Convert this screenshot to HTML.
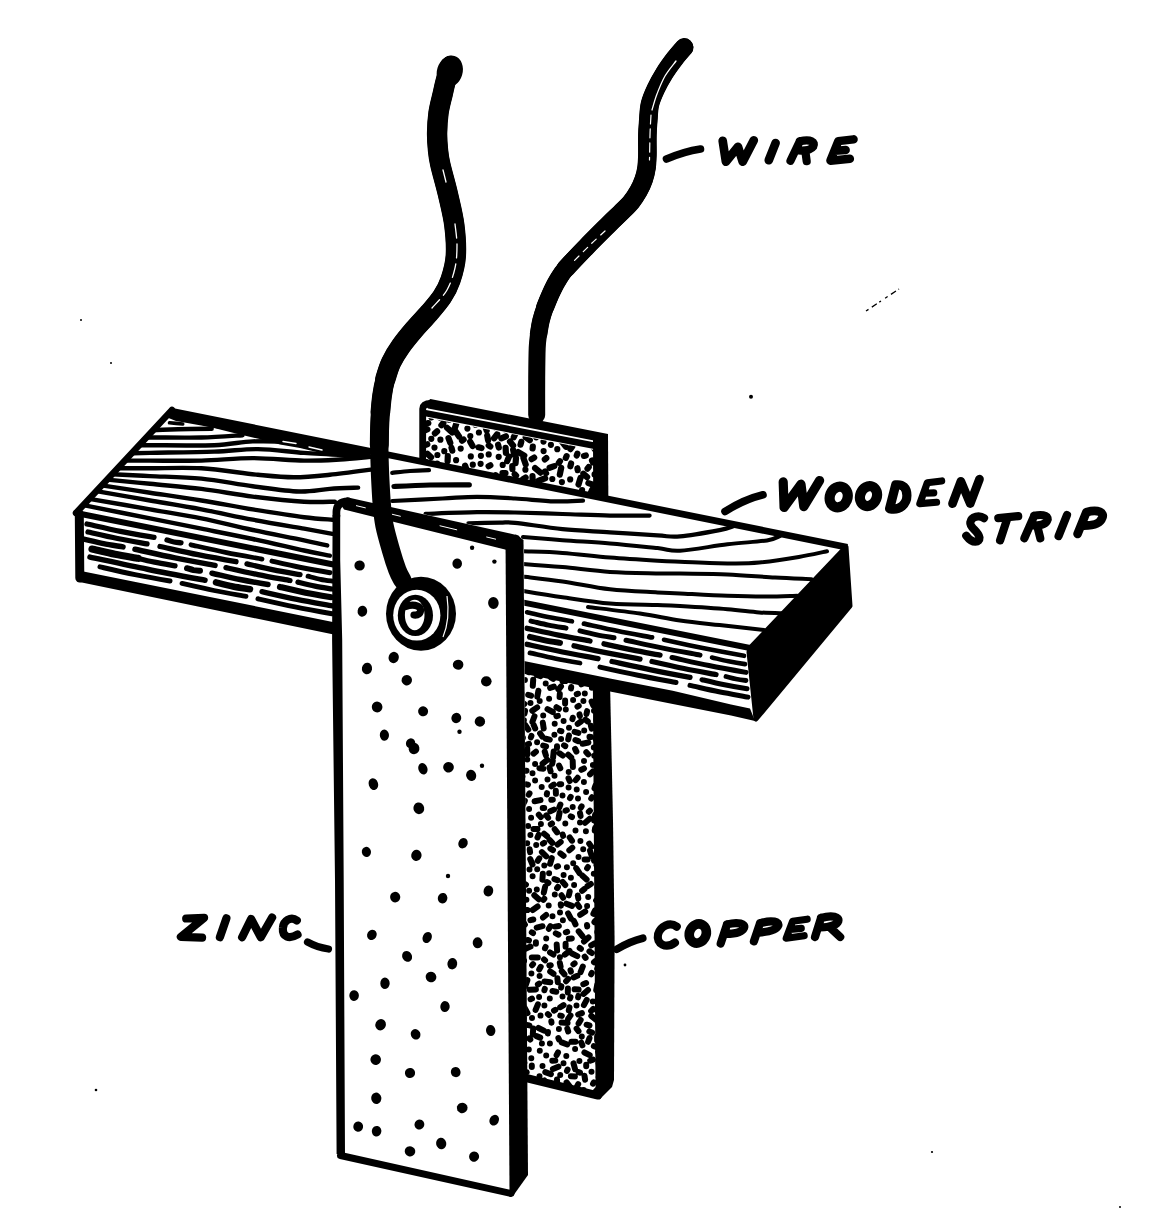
<!DOCTYPE html>
<html><head><meta charset="utf-8"><title>Zinc copper cell</title>
<style>html,body{margin:0;padding:0;background:#fff;font-family:"Liberation Sans",sans-serif}svg{display:block}</style></head>
<body>
<svg width="1168" height="1212" viewBox="0 0 1168 1212">
<rect width="1168" height="1212" fill="#fff"/>
<defs>
<clipPath id="cu1"><polygon points="426,417.5 594,450 594,505 426,470"/></clipPath>
<clipPath id="cu2"><polygon points="520,660 594,680 598,1094 522,1078"/></clipPath>
<clipPath id="wtop"><polygon points="172,410 846,547 750,648 76,513"/></clipPath>
<clipPath id="wfront"><polygon points="76,513 750,648 756,719 77.5,578"/></clipPath>
</defs>
<!-- copper plate -->
<polygon points="420,404 430,399 608,434 614.5,940 613,1084 598,1098 521,1080 420,800" fill="#fff"/>
<path clip-path="url(#cu1)" d="M502.7 464.9l0 0M585.8 455.4l-1.9 0.5M512.3 466.1l0.1 3M456.1 460.2l0 0M535 484.5l-2.8 6.4M440.4 439.7l0 0M438.5 488.5l2.5 1.6M544.3 412.7l0.8 2.9M595.8 503.4l-1.9 2.3M535.1 468.1l5.4 4.5M452.1 410.7l-1.3 1.5M515.9 415.8l0 0M455.2 430.8l3.9 5.8M427.4 453.8l3.7 3.4M500.7 492.6l0 0M505.9 436.3l-4.6 2M570.2 479.4l0 0M478.9 432.5l0 0M473.1 414.7l2.4 4.4M557.3 449.2l0 0M572.2 446.7l-1.8 2.4M592.1 489.8l-2.7 6.5M427.4 429.4l-6.6 2.4M593.7 447.7l1.8 2.4M436.6 470.2l0.2 3M561.9 436l-4.9 1M588.4 483.1l6.6 2.3M443.5 414.2l-3.7 3.3M562.7 427.4l0 0M518.3 452.1l6 3.5M458.3 480.7l-2.2 2M446.8 473.1l0 0M444.3 451.2l0 0M476.9 496.7l0 0M460.7 448.6l0 0M442.1 504.5l-1.3 4.8M465.1 465.6l2.4 6.6M488.7 454.4l0 0M526.4 494.5l-4.9 0.8M456.9 421.8l-2.2 6.7M582.1 490.1l0 0M467.4 428.6l0 0M553 498.7l-0.8 7M458.2 503.1l0 0M577.4 468.2l0.3 2M499.8 417.7l-5 4.9M428.3 503.8l4.9 1.1M464.1 478.5l2.8 1.1M467.3 487.5l2.9 6.4M525.7 437.3l4.1 2.9M437.1 431.4l-2.2 2M581.2 429.2l4.7 1.6M523.6 422.9l0 0M487.4 496.4l-0.9 1.8M594.6 474.4l0 0M427.7 472.3l0 0M507.9 481.6l0 0M480.6 506.9l-2.3 2M437.1 463.5l0 0M552.3 479l0 0M561.4 497.3l1.3 4.8M485.2 477.1l0 0M532.8 446.5l-0.2 2M525.4 469.7l0 0M554.3 466.1l-4.7 1.6M546.3 458.1l-1.5 1.3M530.1 499l1.6 2.5M467.5 408.8l2.1 4.5M476.6 475l-0.5 3M447.8 456.2l-0.2 5M570.6 493.1l-2 0.2M534.2 457.6l-2.6 1.6M572.5 413l6.7 2.1M478 485.1l-0.5 5M428.3 423.1l-1.9 0.5M503.1 412.4l0 0M569.9 431.3l-3 4M543.1 429.5l0 0M508.1 425.5l-2.9 4.1M470.2 441.7l2.4 4.4M492.5 487.6l0 0M490.4 465.3l-1.8 0.9M549.6 490.2l0 0M515.4 484.6l4 5.7M567.1 415.2l-4.5 2.1M589.2 418.4l0 0M571.1 463.4l-0.7 2.9M458.7 493.2l3 0.3M592 460.5l0.9 1.8M528 410.6l2.6 4.2M470.8 456.4l0 0M459.8 470.4l-5 0.3M543.5 441.6l0 0M443.3 479.4l-2.1 4.5M514.6 423.7l3.1 3.9M580 439.9l2.2 2M578.4 423.1l0 0M495.7 475.2l-3.2 3.9M541.2 499.2l3 0.1M567.4 505l5.6 4.2M480.9 455.8l0 0M513.1 449.7l1 4.9M469.1 495.8l-0.4 7M427.3 444.3l-2.8 1M592.1 411.8l4.9 0.9M490.8 419.3l-2.9 0.8M487.2 435.5l0.9 4.9M555.4 414l-2.3 1.9M436.6 497.3l0.4 3M498.7 456.8l0 0M592.2 432.9l2.3 2M514.2 501.4l1.8 0.8M459.3 412.6l0.2 5M560 461.2l-1.2 1.6M552.7 432.9l-1.8 0.9M561.2 467.8l-1.4 6.8M430.3 414.6l1.1 2.8M534.7 419l-4.5 2.1M541.1 505.9l-6.7 2.1M480.6 463.8l0 0M498.1 444.7l0.7 2.9M583.1 501.5l1.5 1.3M566.6 456.1l-0.8 1.8M516 458.1l-0.4 5M450.2 485.5l0 0M424 489.5l0.5 1.9M573.2 439.8l0 0M504.3 504.8l0 0M545.2 478.3l-6.6 2.3M554.2 489.3l6.6 2.4M531.6 429.2l3 0.3M525.6 477.5l-2.5 1.6M444.2 497.8l6.8 1.6M515.1 434.5l-1.3 2.7M505.6 447.8l0.3 5M532.5 476.1l0.1 3M548.1 423.2l0 0M463.6 439.5l-1.6 1.2M583.4 473.7l3.7 3.4M448.5 438.2l1.8 4.7M595.6 424.2l0 0M478.6 447.3l2.9 0.7M447 427.7l5.2 4.7M434.5 447.6l0 0M426.4 462.2l-4.5 2.3M543.6 451.1l0 0M432.5 479.9l0 0M481.3 411.6l0.3 2M561.9 482.1l0 0M443.4 422.9l-2 2.3M591.1 440.4l-4.4 2.3M485.8 427.8l0.9 2.9M547.5 507.7l-3 0.1M495.2 506.5l1.7 1.1M510 441.6l3.1 3.9M577.4 453.6l-0.7 1.9M525.3 502.3l-4.5 2.3M576.8 501.2l-1.9 0.6M499.8 484.7l0 0M521.3 441.8l-0.8 2.9M424.2 410.1l0 0M496 428l0 0M580.5 477.8l-2 6.7M505.5 473l-3 0.2M514.7 474.2l1.4 1.4M588.7 467.1l-1.2 1.6M523.4 457.9l2.3 6.6M509.3 491.5l1.8 2.4M467.1 420l0 0M451.5 447.8l0.8 2.9M431.3 438.8l0 0M492.5 409.5l2.6 1.5M495.4 498.8l0 0M550.9 444.8l0 0M475.5 424.7l0 0M437.4 455l0 0M488.7 445.4l1.6 1.1M487.5 505.8l1.6 1.2M586.1 411.2l0 0M421.5 479.1l5 0.7M570.6 424.7l0 0M470.3 436.1l0 0M470.6 507.6l0 0M539.4 484.5l4.1 5.7M536.2 437.3l0 0M449.2 419.7l0 0M539.3 410.4l-3 0M509.1 456.5l-1.9 4.6M450.6 506.9l0 0M541.1 418.6l-2 6.7M497.2 434.3l-3.1 3.9M523.1 430.2l1.4 2.6M472.8 464.7l0 0M545.1 471.5l1 1.7M562 507.7l-5 0.1M561.5 441.2l4.3 5.5" fill="none" stroke="#000" stroke-width="6.2" stroke-linecap="round"/>
<path clip-path="url(#cu2)" d="M556.7 944.6l0.4 6M572.8 717.7l-0.4 1.5M519.8 820.6l-1.8 2.4M540.5 1015.6l0 0M573.8 920.8l1.7 3.6M529.7 849.3l0.4 3M531.3 1058.2l0 0M523.8 1018.2l-2 2.3M524.1 960.7l0 0M544.1 833.7l3 2.6M588.6 660.7l-3.1 5.1M521.7 1061.4l2.6 1.5M559.8 694l-0.2 3M599.2 1075.6l-0.5 1.4M527.2 843.3l0 0M529.5 793.4l-0.8 1.3M569 727.8l0 0M575.1 677.9l0 0M532 1018l0 0M549.5 839.9l2.8 2.9M566.9 867.2l0 0M550.2 668.3l-1.4 0.5M578.2 1084.2l-1.4 2.7M598.1 950.3l0 0M546.3 815.4l1.8 2.4M571.9 953.5l5.4 2.6M527.3 759.6l0 0M547.2 882.1l1.2 0.9M582.2 875.5l4.4 4M536.2 845.1l0 0M549.8 998.5l0 0M526.4 899.7l0 0M533.1 964.1l-1 1.1M522.4 776.6l-2.8 2.8M546.2 938.4l0 0M522.3 859.4l0 0M535.1 780.4l0 0M557 1079.6l0.2 4M531.8 1065.5l-0 1.5M545.9 738.8l3.9 0.8M579.4 1060.9l0 0M581.6 806.4l-0.8 1.3M536.8 657.7l1.9 2.3M520.3 928.8l2 3.4M598.1 1098.9l1.2 0.9M559.3 665.6l0 0M544.4 1005.4l0 0M588.5 937.5l-4.5 4M536.8 889.6l0 0M555.8 933.4l2.7 1.3M539.5 1076.3l0 0M590.9 725.7l0.8 2.9M541.9 1043.6l0 0M559.8 962.8l0.8 3.9M575.1 748.9l1.3 2.7M539.4 768.2l4 0.5M574.6 963.4l-1.2 0.9M528.8 1049.5l0 0M552.8 760.9l-0.6 2.9M553.7 1090.1l0 1.5M593.8 1082.4l-0.8 1.3M580.4 840.9l0 0M566.3 1055.9l0 0M585.2 911.5l-5 3.3M577.5 904.4l1.7 2.5M519.2 969.5l0.4 3M593.2 1008.9l-2.1 2.1M593 1059.6l-2.8 1.1M563.6 1005.1l-3.4 2.1M549.1 698.7l0 0M547 793.1l-0.2 1.5M595.1 961.2l-1.1 1M575.5 830.4l0 0M538.7 834.7l-1.2 2.8M544 959.4l1.1 1M528.2 694.9l2.9 0.8M579.7 948l1.2 0.9M595.1 814.7l-0.9 5.9M520.4 872.1l0 0M554.4 734.8l0 0M572.7 806.9l0 0M540.5 800.1l-5.9 1.2M594.4 656.7l2.1 3.4M547.5 779.5l0 0M530.2 859l2.3 5.5M567.3 1028.6l0.9 2.9M539.3 858.3l-1.6 2.5M586.6 1024.7l2.9 0.8M596.1 900.4l3.3 2.2M578 798.4l0 0M559.6 812.6l-1.1 5.9M543.2 715.5l0 0M534.3 895.2l4.5 4M536.8 674.8l3.8 1.3M583.9 782.1l0 0M595.2 920.8l-0.8 1.3M549.9 1043.5l0 0M592 797.2l-0.8 1.3M527.6 940l1.4 0.4M587 925l0.2 1.5M568.7 772.1l0 0M552 823.5l-1.2 0.8M584.2 730.6l0 0M597.6 887.6l0 0M544.4 981.5l5.9 0.8M520 792.2l0 0M520.5 730.9l-3 0.5M531.4 973.5l0 0M560.4 853.4l3.2 2.4M577.6 777.8l-1.9 2.3M593.8 873.7l0 0M567.9 988.5l-0.1 4M587.1 711.1l-0.6 2.9M521.9 702.3l2.4 1.7M524.9 680.1l0 0M520.2 764.7l-2.9 2.7M566.6 1082.4l3.7 4.7M597.3 984.3l-1.1 5.9M595.9 667.5l0 0M557 746.2l-0 1.5M562.5 795.6l0 0M538.4 690.8l-1.1 5.9M599.9 992.7l-2 5.7M542.5 1066l0 0M569.6 950.9l-4.7 3.7M518.7 756l0.6 1.4M557.4 978.3l0.4 4M588 990l-4.5 3.9M588.7 1095.4l0 0M569.7 891.5l-0.9 3.9M550.3 926.2l-1.5 2.6M527.4 980.2l-2 5.7M562.9 920.2l0 0M565.3 823.4l0 0M599.4 801.4l0.8 1.3M595.4 785.7l-0.9 2.8M545.6 946.9l-0.6 1.4M571.2 687l-0.2 1.5M573.1 700l0 0M538.5 1028l5.4 2.6M537.1 742.3l0 0M571.8 938.4l-3 0.3M599.2 857.5l-5.2 3.1M595.1 827.8l-0.4 3M574.6 989.3l4 0.2M550.7 677.2l2.4 1.7M542.8 722.6l0.9 5.9M526.5 1024.9l2.9 0.5M549.1 873.2l0 0M567.6 1069.5l-0.6 1.4M591.6 701.5l1.6 3.7M569 735.5l-0.8 3.9M572.3 847.7l-3 2.6M560.7 904.2l0.2 1.5M584.4 1052.5l5.3 2.7M589.7 818.8l-4.6 3.9M584.5 888.9l-2.4 1.9M569 1095.7l0 0M571.5 1041.7l4 0.1M570.7 816.3l1.3 0.7M599.1 716l-2.3 3.3M580.7 1020l-2.1 3.4M531.7 662.7l0.4 3M552.8 799.7l-1.5 0.1M559.5 1093.8l3.9 1M597.1 678.6l-4.5 4M537.2 707.4l-4.9 3.4M584.7 956.7l0.9 1.2M555.3 1060.5l-3 0.3M593.8 1046.2l5.7 1.8M535.9 751.7l-2.3 1.9M558 1052.5l-1.4 2.7M573.2 863.2l0 0M582.8 966.5l-2.2 5.6M598.8 1031.3l0 0M554.7 723.7l0 0M531.8 932.3l1.2 0.8M544.9 1094.6l0 0M574.1 884.9l0 0M535 1083l-1.1 1M594.7 943.3l-3.5 2M546.1 915l-3.1 2.5M576.2 868.2l3.3 5M526.7 1072.2l-2.9 0.7M563.6 721.1l0 0M529 743.8l-1.4 0.5M533.2 679.8l-0.4 6M544.4 1080.5l2 3.4M539.8 1050.7l0 0M539.6 975.9l0 0M530.5 946.6l-5.5 2.4M533.3 919.5l-2.9 0.7M575.1 1049l0 0M539.1 996.9l0 0M557.1 656.8l0 0M527.9 657.8l-5.9 0.9M574.6 731.8l3.8 1.1M542.7 807.9l1.5 0M586.1 983l-2.8 1.2M597.3 932.1l0 0M557.9 715.9l-1.5 0.3M532.6 876.3l0 0M578.4 995.9l-0.3 1.5M553.9 686.6l-3.8 1.2M589.1 672.6l-1.1 1M562.7 834.5l0.4 1.4M568.1 913.4l2.8 5.3M537.2 869.3l0 0M523.9 720.2l0 0M589.2 843.6l2.3 3.3M550.4 848.6l2.6 1.5M584 768.5l-2.7 1.3M577.8 656.4l-5.6 2.3M528.1 825.9l0 0M569 668.3l0 0M555.3 1009.9l-1.3 0.7M535.1 763.9l0 0M593.8 747.4l0 0M581.8 1036.4l0 0M578.7 931.4l3.8 4.7M580 822.4l0 0M556.5 707.2l2.5 1.6M584.8 693.5l0 0M521.8 1082.7l-6 0.1M590 850.7l2 5.7M567.2 931.9l-1.4 0.4M548.7 905.6l0 0M583.6 1089.9l0 0M576.8 1091l-0 6M537.9 1004.3l-2.3 5.6M565.8 709.6l0 0M591.8 973l-0.7 1.3M592.8 771.5l-2.8 2.8M588.4 742.5l-5.9 1.3M555.8 790.7l0.1 3M527.4 910l-4 0.2M551.3 1021.2l0.2 1.5M520.6 1053.7l0 0M524.7 883.8l1.2 0.9M560.4 804.5l-1.1 2.8M558.4 1066.7l-5.5 2.4M560.3 1015.6l1.5 0.3M570.5 1015.4l-2.3 3.3M598.1 1051.8l1.9 5.7M562.4 680.8l3 0.3M559.5 753.3l3.3 2.3M550.2 971.5l3.3 2.3M565.6 943.8l0 3M559.1 765.6l1.2 2.7M560.7 842l-3.1 2.5M558.9 1029l0 0M563.6 875l0 0M584.9 682.6l-3.6 1.7M528.5 1094.5l-0.3 4M568.2 754.7l3 2.7M576.5 1005.6l0 0M521.1 1038.5l0 0M539.7 701l0 0M545.4 655l1 3.9M558.4 1038.1l0.6 1.4M554.5 775.7l0 0M566.4 903.7l5.6 2.2M533.6 724.8l1.6 3.7M586.1 792l0 0M544.3 898.8l-1 1.1M597.1 1036.5l0 4M594.3 755.8l0 0M519.8 686.1l0 0M552.4 991l3.9 0.7M544.8 988.9l-0.4 1.4M526.5 784.4l1.5 0.3M580.9 721.5l-3.2 2.4M519.3 1028l2.8 2.8M542.5 926.2l-5.8 1.4M521.9 665.1l0 0M595.1 910.3l-1.7 3.6M524.8 800.8l-2.7 5.4M586.7 999.9l-2.8 5.3M577.3 975.8l-3.7 1.6M589.9 810.7l-1.1 1M537.8 957.6l-6 0M537.6 906.5l-4.9 3.5M592.9 765l0 0M601.6 737.9l-5.8 1.6M535.9 942.2l0 1.5M544.7 751.5l1.2 3.8M589.5 1038.1l-1.4 3.7M521.1 810.6l-2.2 3.4M548 1032l-0.2 1.5M584 760.9l0 0M531.1 817.7l0 0M585.9 831.2l0 0M520.7 916.4l0 0M524.7 1007.9l2.8 5.3M535.9 989.4l-6 0.4M592.8 1001.5l0 0M585.4 719.7l2.4 1.8M520.1 901.1l-2.3 5.6M528.8 670.7l-0.1 1.5M596.5 865.2l2 3.5M588.2 896.9l0 0M540.9 823.9l0 0M561.8 971.2l2.6 3.1M532.5 773.2l0 0M596.6 1010.1l5.8 1.5M545.7 683.4l0 0M540.5 666.2l0 0M563.5 1063.2l0 0M541.7 786.9l0 0M525.1 710.8l-0.6 2.9M596.6 695.8l0 0M570.7 796.8l-0.7 1.3M570.5 997l-0.5 1.4M519.3 943.1l-1.4 0.6M598.5 1062.9l0 0M598.8 775.6l0 0M584.5 1075.8l0.6 4M579.5 714.4l0.4 1.5M599.7 967.1l-2.4 1.8M578.5 856.9l0 0M539.1 983.6l-1.2 0.9M568.6 787.6l0 0M569.7 837.4l2.3 3.3M536.5 1036.1l3.7 1.5M521.3 836l-2.5 5.5M522.5 1000.8l0 0M587.1 905.9l0 0M558.5 673.1l5.8 1.5M518.8 850.1l0 0M526.5 1086.7l0.7 2.9M515.3 954.6l5.6 2.3M579.5 664l1.5 5.8M522.6 989.3l-0.3 3M562.7 882l2.6 3M572.7 760.9l0.2 6M587.9 867l-0.8 1.3M583.2 849.2l0 0M583.4 701l0 0M596.8 1090.1l-2.6 3.1M568.1 979l-2 2.2M597 838l0 0M547.5 709.2l5.3 2.8M545.3 1072.1l5.6 2.1M578.6 1072.2l1.4 0.5M534.5 716.2l-2.1 5.6M521.5 892.9l1 1.1M529.2 1038.5l1.1 1M590.9 884l-3.4 2.1M551.8 858.1l-1.7 5.7M554.8 894.5l0 0M581.9 1013.1l-3.7 1.4M591.3 1015.9l4.6 3.9M552.5 916.3l0 0M558.1 866.2l-1.4 0.4M576.6 1028.7l1.9 2.4M567.6 659.6l0 0M518.6 748.1l1.3 0.7M560 912.6l0 0M562.5 996.5l0 0M518.4 1092.2l0 0M599.7 794.4l0 0M599.7 684.6l-0 4M578.7 705.8l-1.2 0.9M598.9 725l0 0M591.9 687.7l0 0M570.5 970.2l0.4 1.4M561.2 784.2l-1.5 0.1M532.1 1089.8l4.8 3.6M570.9 1076.2l4 0.2M564 745.3l1.3 0.8M526.5 770.7l-4 0.2M525 724.6l3.3 5M553.9 809.6l-3.6 1.7M568.5 778.3l1.2 2.7M559.9 957.2l0 0M554.4 879.2l2.9 0.9M538.8 814.8l2 2.3M570.9 877.8l0 0M589.5 736.8l1.5 0.1M529.1 809l0 0M586.2 1064.8l-0 1.5M537.7 1098.6l0 0M581.3 1042.5l1.1 2.8M599.6 979.6l0 0M550.8 965.2l-1.5 0.2M523.3 922.1l1.6 2.5M530.4 835l0 0M598.9 810l-1.5 0.4M544.1 842.8l-1.2 0.9M521.9 829.2l-2.5 1.7M531.4 735.9l-0.5 1.4M594 710.7l0 0M546.2 1055.5l0 0M599.6 761.2l0 0M532 998.6l-1.4 0.6M582.7 1099.8l0 0M542.8 873.7l-0.4 6M560.2 1074.9l0 0M540.1 733.4l2.3 3.3M561.7 1042.4l5.6 2.1M576.7 789.6l0 0M520.2 1098.1l0.3 3M591.5 1071.7l0 0M551.8 1097.8l-1.5 2.6M573.5 1063.4l1.6 5.8M520.8 670.8l-3.2 5.1M577.8 895.5l0.5 3M541.9 852.1l4.3 4.2M522.9 737.8l0 0M519.5 979.1l0 0M533.2 1028.4l-0.4 6M584.8 655.3l0 0M540.7 966.8l-1.5 2.6M560 730.8l1.4 0.4M529.5 869.6l0 0M550 952.4l3.4 2.2M530.5 702.9l0 0M586.3 752.2l2 2.2M554.7 829.2l2.4 3.2M545.1 886.8l-1.3 5.9M589.4 951.4l2.5 1.6M543.2 745.6l2.9 0.8M553.9 784.6l-2.5 1.7M561.4 986.1l-0.3 1.5M529.1 890.8l0 0M561.5 895.2l1.6 2.6M599.4 850.1l-1.2 2.8M575.4 740l2.8 1.1M589.3 1031.5l2.8 1.1M578.1 693.7l-1.4 0.4M561 686.4l-2.5 3.1M544.3 865.5l0 0M598.7 940.5l2.5 1.7M565.1 700.6l-0 3M533.5 829l4 0.1M561.1 738.9l0 0M521.3 878.7l-5.1 3.2M561.6 1022.6l6 0.3M549.5 767.5l1.1 3.8M580 813.1l0.6 2.9M584.6 859.4l3 0.1M569.5 1007.4l-0.7 2.9M518.9 1011.7l-0.8 2.9M553.7 751.4l-0.6 6M601.8 1021.1l-3.7 1.6M599 674.5l0 0M566.9 810.2l-1.4 0.4M521.8 693.4l0 0M527.2 748.4l0.1 6M558 886.9l-0.9 1.2M547.9 1014.1l1.1 1M599.3 879l0 0M558.9 926l-4 0.6M547.3 759.9l-4.7 3.7" fill="none" stroke="#000" stroke-width="6" stroke-linecap="round"/>
<path d="M422.7 472 L422.7 409 Q423 403.5 431 403.5" fill="none" stroke="#000" stroke-width="6.8" stroke-linecap="round" stroke-linejoin="round"/>
<polygon points="593,436 608,434.5 608.4,506 593.2,503" fill="#000"/>
<polygon points="592.8,676 610,682 613,820 614.6,940 614,1080 612,1087 600,1099 595.6,1094" fill="#000"/>
<path d="M524 1077.5 L598 1095.5" fill="none" stroke="#000" stroke-width="8" stroke-linecap="round" stroke-linejoin="round"/>
<!-- right wire -->
<path d="M684.2 47.4C682.6 49.2 678.1 54.2 674.8 58.5C671.5 62.8 667.6 68.1 664.5 73.1C661.4 78.1 658.4 83.4 656 88.5C653.6 93.6 651.3 98.7 650 103.9C648.7 109.2 648.7 114.8 648.3 120C647.9 125.2 647.5 129.2 647.4 135C647.2 140.8 647.5 149.3 647.4 154.8C647.2 160.3 647.1 163.9 646.5 168C645.9 172.1 645 175.7 643.7 179.5C642.4 183.3 640.6 187.3 638.5 191C636.4 194.7 634.3 198.1 631.3 201.8C628.3 205.5 624.2 209.3 620.5 213C616.8 216.7 614.6 218.5 609 224.1C603.4 229.7 594 239 586.8 246.4C579.6 253.8 570.6 262.9 565.7 268.6C560.8 274.3 560 276.4 557.5 280.5C555 284.6 552.9 289 550.9 293.4C548.9 297.8 546.9 302.5 545.2 307C543.6 311.5 542.1 316.1 541 320.6C539.9 325.1 539.2 329.4 538.6 334C538 338.6 537.5 340.6 537.2 347.9C536.9 355.2 536.8 366.4 536.7 377.6C536.6 388.8 536.7 408.8 536.7 415" fill="none" stroke="#000" stroke-width="17" stroke-linecap="round" stroke-linejoin="round"/>
<path d="M684.2 47.4C682.6 49.2 678.1 54.2 674.8 58.5C671.5 62.8 667.6 68.1 664.5 73.1C661.4 78.1 658.4 83.4 656 88.5C653.6 93.6 651.3 98.7 650 103.9C648.7 109.2 648.7 114.8 648.3 120C647.9 125.2 647.5 129.2 647.4 135C647.2 140.8 647.5 149.3 647.4 154.8C647.2 160.3 647.1 163.9 646.5 168C645.9 172.1 645 175.7 643.7 179.5C642.4 183.3 640.6 187.3 638.5 191C636.4 194.7 634.3 198.1 631.3 201.8C628.3 205.5 624.2 209.3 620.5 213C616.8 216.7 614.6 218.5 609 224.1C603.4 229.7 594 239 586.8 246.4C579.6 253.8 570.6 262.9 565.7 268.6C560.8 274.3 560 276.4 557.5 280.5C555 284.6 552.9 289 550.9 293.4C548.9 297.8 546.9 302.5 545.2 307C543.6 311.5 542.1 316.1 541 320.6C539.9 325.1 539 331.8 538.6 334" fill="none" stroke="#000" stroke-width="17.5" stroke-linecap="round" stroke-linejoin="round"/>
<path d="M684.2 47.4C682.6 49.2 678.1 54.2 674.8 58.5C671.5 62.8 667.6 68.1 664.5 73.1C661.4 78.1 658.4 83.4 656 88.5C653.6 93.6 651.3 98.7 650 103.9C648.7 109.2 648.7 114.8 648.3 120C647.9 125.2 647.5 129.2 647.4 135C647.2 140.8 647.5 149.3 647.4 154.8C647.2 160.3 647.1 163.9 646.5 168C645.9 172.1 645 175.7 643.7 179.5C642.4 183.3 640.6 187.3 638.5 191C636.4 194.7 634.3 198.1 631.3 201.8C628.3 205.5 624.2 209.3 620.5 213C616.8 216.7 614.6 218.5 609 224.1C603.4 229.7 594 239 586.8 246.4C579.6 253.8 570.6 262.9 565.7 268.6C560.8 274.3 560 276.4 557.5 280.5C555 284.6 552.9 289 550.9 293.4C548.9 297.8 546.2 304.7 545.2 307" fill="none" stroke="#000" stroke-width="18" stroke-linecap="round" stroke-linejoin="round"/>
<path d="M684.2 47.4C682.6 49.2 678.1 54.2 674.8 58.5C671.5 62.8 667.6 68.1 664.5 73.1C661.4 78.1 658.4 83.4 656 88.5C653.6 93.6 651.3 98.7 650 103.9C648.7 109.2 648.7 114.8 648.3 120C647.9 125.2 647.5 129.2 647.4 135C647.2 140.8 647.5 149.3 647.4 154.8C647.2 160.3 647.1 163.9 646.5 168C645.9 172.1 645 175.7 643.7 179.5C642.4 183.3 640.6 187.3 638.5 191C636.4 194.7 634.3 198.1 631.3 201.8C628.3 205.5 624.2 209.3 620.5 213C616.8 216.7 614.6 218.5 609 224.1C603.4 229.7 594 239 586.8 246.4C579.6 253.8 569.2 264.9 565.7 268.6" fill="none" stroke="#000" stroke-width="18.6" stroke-linecap="round" stroke-linejoin="round"/>
<path d="M676 61C674.2 63.5 668.2 70.5 665 76C661.8 81.5 659.2 88.3 657 94C654.8 99.7 652.8 107.3 652 110" fill="none" stroke="#fff" stroke-width="1.3" stroke-linecap="round"/>
<path d="M651 115C650.8 118.3 650.2 127.5 650 135C649.8 142.5 649.6 155.8 649.5 160" fill="none" stroke="#fff" stroke-width="1.2" stroke-linecap="round" stroke-dasharray="9 5"/>
<path d="M605 231C602.5 233.3 595.3 239.8 590 245C584.7 250.2 575.8 259.2 573 262" fill="none" stroke="#fff" stroke-width="1.2" stroke-linecap="round" stroke-dasharray="6 6"/>
<polygon points="424,404 430.4,399 608,434 608,443.2 428,408.4" fill="#000"/>
<polygon points="426,409.9 594,442.3 594,449 426,416.6" fill="#000"/>
<!-- wooden strip -->
<polygon points="172,410 846,547 850,606 756,719 77.5,578 76,513" fill="#fff"/>
<path d="M153.3 430.1C154.9 430 156.7 430 162.8 429.8C168.9 429.6 181.9 429.2 190 429C198.1 428.8 208 428.8 211.6 428.8" fill="none" stroke="#000" stroke-width="4.6" stroke-linecap="round" stroke-linejoin="round" clip-path="url(#wtop)"/>
<path d="M146.4 437.5C147.8 437.5 145.9 437.5 155.1 437.5C164.3 437.5 186.8 437.9 201.4 437.5C216 437.1 235.7 435.6 242.5 435.2" fill="none" stroke="#000" stroke-width="4.4" stroke-linecap="round" stroke-linejoin="round" clip-path="url(#wtop)"/>
<path d="M139.2 445.2C141 445.2 137.5 445.2 150 445.2C162.5 445.2 197.1 445.8 214.2 445.2C231.3 444.6 240.3 441.8 252.7 441.4C265.1 441 276.3 441 288.7 442.7C301.1 444.4 320.8 450.1 327.2 451.6" fill="none" stroke="#000" stroke-width="4.4" stroke-linecap="round" stroke-linejoin="round" clip-path="url(#wtop)"/>
<path d="M131.7 453.3C134.7 453.2 136.2 453.2 150 452.9C163.8 452.6 196.2 452.2 214.2 451.6C232.2 451 242.9 448.9 257.9 449.1C272.9 449.3 288.7 451.8 304.1 452.9C319.5 454 342.7 455.1 350.4 455.5" fill="none" stroke="#000" stroke-width="4.4" stroke-linecap="round" stroke-linejoin="round" clip-path="url(#wtop)"/>
<path d="M124.8 460.6C129 460.6 137.2 460.6 150 460.6C162.8 460.6 184.3 461 201.4 460.6C218.5 460.2 235.6 458.1 252.7 458.1C269.8 458.1 289.6 460.4 304.1 460.6C318.7 460.8 328.9 460.1 340 459.5C351.1 458.9 365.8 457.2 370.9 456.8" fill="none" stroke="#000" stroke-width="4.4" stroke-linecap="round" stroke-linejoin="round" clip-path="url(#wtop)"/>
<path d="M117.7 468.3C123.1 468.3 136 468.3 150 468.3C164 468.3 183.4 467.2 201.4 468.3C219.4 469.4 242.5 473.3 257.9 474.8C273.3 476.3 281.8 477.3 293.8 477.3C305.8 477.3 317 476.1 329.8 474.8C342.6 473.5 364 470.5 370.9 469.6" fill="none" stroke="#000" stroke-width="4.4" stroke-linecap="round" stroke-linejoin="round" clip-path="url(#wtop)"/>
<path d="M112.1 474.3C118.4 474.6 135.1 475.4 150 476.1C164.9 476.8 184.3 476.9 201.4 478.6C218.5 480.3 236.4 484.2 252.7 486.3C269 488.4 286.1 491.1 299 491.5C311.9 491.9 319.9 489.5 329.8 488.9C339.7 488.2 353.4 487.8 358.1 487.6" fill="none" stroke="#000" stroke-width="4.4" stroke-linecap="round" stroke-linejoin="round" clip-path="url(#wtop)"/>
<path d="M107.2 479.6C114.3 480.3 134.3 482.2 150 483.8C165.7 485.4 184.3 486.8 201.4 488.9C218.5 491 235.6 494.5 252.7 496.6C269.8 498.7 290.4 500.9 304.1 501.7C317.8 502.5 329.8 501.7 334.9 501.7" fill="none" stroke="#000" stroke-width="4.4" stroke-linecap="round" stroke-linejoin="round" clip-path="url(#wtop)"/>
<path d="M101.7 485.4C109.8 486.6 133.4 490.2 150 492.7C166.6 495.2 184.3 497.7 201.4 500.5C218.5 503.3 235.6 506.6 252.7 509.4C269.8 512.2 290.8 515.5 304.1 517.2C317.4 518.9 327.7 519.3 332.4 519.7" fill="none" stroke="#000" stroke-width="4.4" stroke-linecap="round" stroke-linejoin="round" clip-path="url(#wtop)"/>
<path d="M96.3 491.2C105.3 492.8 132.5 497.5 150 500.5C167.5 503.5 184.3 506.2 201.4 509.4C218.5 512.6 235.6 516.5 252.7 519.7C269.8 522.9 290.8 526.4 304.1 528.7C317.4 531.1 327.7 532.9 332.4 533.8" fill="none" stroke="#000" stroke-width="4.4" stroke-linecap="round" stroke-linejoin="round" clip-path="url(#wtop)"/>
<path d="M89.3 498.8C99.4 500.5 131.3 506.1 150 509.4C168.7 512.7 184.3 515 201.4 518.4C218.5 521.8 235.6 526.4 252.7 530C269.8 533.6 291.7 537.7 304.1 540.3C316.5 542.9 323.4 544.5 327.2 545.4" fill="none" stroke="#000" stroke-width="4.4" stroke-linecap="round" stroke-linejoin="round" clip-path="url(#wtop)"/>
<path d="M83.4 505.1C94.5 507.3 130.3 514.5 150 518.4C169.7 522.3 184.3 525.3 201.4 528.7C218.5 532.1 235.6 535.4 252.7 539C269.8 542.6 291.2 547.7 304.1 550.5C317 553.3 325.5 554.8 329.8 555.7" fill="none" stroke="#000" stroke-width="4.4" stroke-linecap="round" stroke-linejoin="round" clip-path="url(#wtop)"/>
<path d="M169.5 422.8C171.7 423 180.5 423.8 182.7 424" fill="none" stroke="#000" stroke-width="3.6" stroke-linecap="round" stroke-linejoin="round" clip-path="url(#wtop)"/>
<path d="M392.2 472.8C395.2 472.5 403.9 471.4 410 471C416.1 470.6 425.8 470.3 429 470.2" fill="none" stroke="#000" stroke-width="4.2" stroke-linecap="round" stroke-linejoin="round" clip-path="url(#wtop)"/>
<path d="M394 486.5C400 486.2 417.4 485.3 430 485C442.6 484.7 462.8 484.8 469.3 484.8" fill="none" stroke="#000" stroke-width="5.2" stroke-linecap="round" stroke-linejoin="round" clip-path="url(#wtop)"/>
<path d="M392.2 501C400.6 500.6 428.6 499.2 442.7 498.5C456.8 497.8 464.9 496.8 477 496.8C489.1 496.8 502.1 497.7 515 498.5C527.9 499.3 543.3 501 554.6 501.4C565.9 501.8 578.3 500.7 583 500.6" fill="none" stroke="#000" stroke-width="4.2" stroke-linecap="round" stroke-linejoin="round" clip-path="url(#wtop)"/>
<path d="M425.6 513.9C434.2 513.6 462.1 512.4 477 512.2C491.9 512 500.8 512.2 515 512.5C529.2 512.8 546.7 513.5 562.5 514C578.3 514.5 595.5 515.3 610 515.6C624.5 515.9 643 515.6 649.6 515.6" fill="none" stroke="#000" stroke-width="4.2" stroke-linecap="round" stroke-linejoin="round" clip-path="url(#wtop)"/>
<path d="M468.4 523.3C473.7 523.2 492.2 522.7 500 522.6C507.8 522.5 504.6 521.7 515 522.8C525.4 523.9 546.7 527.5 562.5 529.1C578.3 530.7 594.2 531.2 610 532.3C625.8 533.3 645.8 534.7 657.5 535.4C669.2 536.1 669.6 537.3 680 536.4C690.4 535.5 710.6 531.8 719.6 530.1C728.6 528.4 731.6 526.7 734 526" fill="none" stroke="#000" stroke-width="4.2" stroke-linecap="round" stroke-linejoin="round" clip-path="url(#wtop)"/>
<path d="M523 537C529.6 537.5 548 539.1 562.5 540.2C577 541.3 594.2 542.1 610 543.4C625.8 544.7 645.8 546.9 657.5 548.1C669.2 549.3 668.3 551.3 680 550.7C691.7 550.1 713 546 727.5 544.3C742 542.6 758.2 541.8 767 540.4C775.8 539 777.8 536.7 780 536" fill="none" stroke="#000" stroke-width="4" stroke-linecap="round" stroke-linejoin="round" clip-path="url(#wtop)"/>
<path d="M523 551.3C529.6 551.6 548 551.8 562.5 552.9C577 554 594.2 556.3 610 557.6C625.8 558.9 645.8 560.1 657.5 560.8C669.2 561.5 668.3 561.4 680 561.8C691.7 562.2 714.3 563.3 727.5 563.4C740.7 563.5 747.3 563.7 759.2 562.6C771.1 561.5 787.5 558.9 798.8 557C810.1 555.1 822.3 552.2 827 551.3" fill="none" stroke="#000" stroke-width="4" stroke-linecap="round" stroke-linejoin="round" clip-path="url(#wtop)"/>
<path d="M523 563.9C529.6 564.4 548 565.8 562.5 567.1C577 568.4 594.2 570.9 610 571.9C625.8 572.9 645.8 573.1 657.5 573.4C669.2 573.7 668.3 573.4 680 573.6C691.7 573.8 711.7 573.7 727.5 574.4C743.3 575.1 761 576.8 775 577.6C789 578.4 805.4 578.9 811.5 579.2" fill="none" stroke="#000" stroke-width="4" stroke-linecap="round" stroke-linejoin="round" clip-path="url(#wtop)"/>
<path d="M523 576.6C529.6 577.4 548 579.3 562.5 581.4C577 583.5 594.2 587.5 610 589.3C625.8 591.1 645.8 591.7 657.5 592.4C669.2 593.1 668.3 592.8 680 593.4C691.7 594 713 595.3 727.5 595.8C742 596.3 755.4 596.6 767 596.6C778.6 596.6 792.2 595.9 797.2 595.8" fill="none" stroke="#000" stroke-width="4" stroke-linecap="round" stroke-linejoin="round" clip-path="url(#wtop)"/>
<path d="M523 590.9C529.6 592 548 595.1 562.5 597.2C577 599.3 594.2 602.2 610 603.5C625.8 604.8 645.8 604.7 657.5 605.1C669.2 605.5 668.3 605.4 680 606.1C691.7 606.8 714.3 608.2 727.5 609.3C740.7 610.3 750 611.8 759.2 612.4C768.5 613 779 613.1 783 613.2" fill="none" stroke="#000" stroke-width="4" stroke-linecap="round" stroke-linejoin="round" clip-path="url(#wtop)"/>
<path d="M588 607C596.7 608.1 624.7 611.3 640 613.5C655.3 615.7 666.7 618.5 680 620.4C693.3 622.3 705.6 623.5 719.6 625.1C733.6 626.7 756.6 629.1 764 629.9" fill="none" stroke="#000" stroke-width="4" stroke-linecap="round" stroke-linejoin="round" clip-path="url(#wtop)"/>
<path d="M87 524C92.6 525.2 109.3 529.1 120.5 531.3C131.7 533.5 148.4 536.4 154 537.4" fill="none" stroke="#000" stroke-width="5.3" stroke-linecap="round" stroke-linejoin="round" clip-path="url(#wfront)"/>
<path d="M167 540C168.2 540.4 171.7 541.6 174 542C176.3 542.5 179.8 542.7 181 542.8" fill="none" stroke="#000" stroke-width="5.3" stroke-linecap="round" stroke-linejoin="round" clip-path="url(#wfront)"/>
<path d="M191 544.8C196.9 546.1 214.7 550.2 226.5 552.6C238.3 554.9 256.1 558 262 559.1" fill="none" stroke="#000" stroke-width="4.8" stroke-linecap="round" stroke-linejoin="round" clip-path="url(#wfront)"/>
<path d="M272 561.1C276.8 562.2 291.3 565.6 301 567.5C310.7 569.4 325.2 571.9 330 572.7" fill="none" stroke="#000" stroke-width="5" stroke-linecap="round" stroke-linejoin="round" clip-path="url(#wfront)"/>
<path d="M88 532C92.9 533.1 107.7 536.6 117.5 538.5C127.3 540.5 142.1 543 147 543.9" fill="none" stroke="#000" stroke-width="5.3" stroke-linecap="round" stroke-linejoin="round" clip-path="url(#wfront)"/>
<path d="M160 546.5C166.3 547.8 185.3 552.2 198 554.7C210.7 557.2 229.7 560.6 236 561.7" fill="none" stroke="#000" stroke-width="5.3" stroke-linecap="round" stroke-linejoin="round" clip-path="url(#wfront)"/>
<path d="M247 563.9C251.4 564.9 264.7 568.1 273.5 569.9C282.3 571.7 295.6 573.8 300 574.6" fill="none" stroke="#000" stroke-width="5.3" stroke-linecap="round" stroke-linejoin="round" clip-path="url(#wfront)"/>
<path d="M308 576.2C310.1 576.7 316.3 578.5 320.5 579.3C324.7 580.2 330.9 580.9 333 581.2" fill="none" stroke="#000" stroke-width="4.8" stroke-linecap="round" stroke-linejoin="round" clip-path="url(#wfront)"/>
<path d="M84 539.1C87.2 539.8 97 542.3 103.5 543.6C110 544.9 119.8 546.3 123 546.9" fill="none" stroke="#000" stroke-width="5.5" stroke-linecap="round" stroke-linejoin="round" clip-path="url(#wfront)"/>
<path d="M135 549.3C141.7 550.7 161.7 555.3 175 557.9C188.3 560.6 208.3 564.1 215 565.4" fill="none" stroke="#000" stroke-width="5.5" stroke-linecap="round" stroke-linejoin="round" clip-path="url(#wfront)"/>
<path d="M226 567.6C231.3 568.8 247.3 572.5 258 574.6C268.7 576.8 284.7 579.5 290 580.5" fill="none" stroke="#000" stroke-width="5.3" stroke-linecap="round" stroke-linejoin="round" clip-path="url(#wfront)"/>
<path d="M298 582.1C300.8 582.8 309.3 585 315 586.1C320.7 587.3 329.2 588.5 332 589" fill="none" stroke="#000" stroke-width="5.3" stroke-linecap="round" stroke-linejoin="round" clip-path="url(#wfront)"/>
<path d="M92 549.1C95.8 549.9 107.3 552.8 115 554.3C122.7 555.8 134.2 557.6 138 558.3" fill="none" stroke="#000" stroke-width="7.2" stroke-linecap="round" stroke-linejoin="round" clip-path="url(#wfront)"/>
<path d="M134 557.5C137.4 558.3 147.7 560.9 154.5 562.2C161.3 563.6 171.6 565.2 175 565.8" fill="none" stroke="#000" stroke-width="5.3" stroke-linecap="round" stroke-linejoin="round" clip-path="url(#wfront)"/>
<path d="M187 568.2C188.1 568.5 191.3 569.6 193.5 570.1C195.7 570.5 198.9 570.7 200 570.8" fill="none" stroke="#000" stroke-width="6" stroke-linecap="round" stroke-linejoin="round" clip-path="url(#wfront)"/>
<path d="M212 573.2C216.7 574.2 230.7 577.6 240 579.5C249.3 581.3 263.3 583.7 268 584.5" fill="none" stroke="#000" stroke-width="5.5" stroke-linecap="round" stroke-linejoin="round" clip-path="url(#wfront)"/>
<path d="M280 586.9C284.2 587.9 297 591 305.5 592.7C314 594.4 326.8 596.5 331 597.2" fill="none" stroke="#000" stroke-width="6.2" stroke-linecap="round" stroke-linejoin="round" clip-path="url(#wfront)"/>
<path d="M90 557.1C99.6 559.1 128.3 565.4 147.5 569.2C166.7 573.1 195.4 578.4 205 580.2" fill="none" stroke="#000" stroke-width="5.5" stroke-linecap="round" stroke-linejoin="round" clip-path="url(#wfront)"/>
<path d="M216 582.4C218.8 583.1 227.3 585.3 233 586.5C238.7 587.6 247.2 588.8 250 589.3" fill="none" stroke="#000" stroke-width="6.5" stroke-linecap="round" stroke-linejoin="round" clip-path="url(#wfront)"/>
<path d="M262 591.7C267.8 593 285.3 597.1 297 599.4C308.7 601.8 326.2 604.8 332 605.9" fill="none" stroke="#000" stroke-width="5.3" stroke-linecap="round" stroke-linejoin="round" clip-path="url(#wfront)"/>
<path d="M100 566.9C105.8 568.2 123.3 572.2 135 574.6C146.7 576.9 164.2 580 170 581" fill="none" stroke="#000" stroke-width="5" stroke-linecap="round" stroke-linejoin="round" clip-path="url(#wfront)"/>
<path d="M182 583.4C187.3 584.6 203.3 588.3 214 590.5C224.7 592.6 240.7 595.4 246 596.4" fill="none" stroke="#000" stroke-width="4.8" stroke-linecap="round" stroke-linejoin="round" clip-path="url(#wfront)"/>
<path d="M258 598.8C264.2 600.2 282.7 604.4 295 606.9C307.3 609.4 325.8 612.7 332 613.8" fill="none" stroke="#000" stroke-width="5" stroke-linecap="round" stroke-linejoin="round" clip-path="url(#wfront)"/>
<path d="M527 612.3C530.8 613.1 542 615.8 549.5 617.3C557 618.8 568.2 620.6 572 621.3" fill="none" stroke="#000" stroke-width="4.6" stroke-linecap="round" stroke-linejoin="round" clip-path="url(#wfront)"/>
<path d="M584 623.7C589.7 624.9 606.7 628.8 618 631C629.3 633.3 646.3 636.3 652 637.4" fill="none" stroke="#000" stroke-width="4.8" stroke-linecap="round" stroke-linejoin="round" clip-path="url(#wfront)"/>
<path d="M664 639.8C670.7 641.2 690.7 645.6 704 648.3C717.3 651 737.3 654.6 744 655.8" fill="none" stroke="#000" stroke-width="4.6" stroke-linecap="round" stroke-linejoin="round" clip-path="url(#wfront)"/>
<path d="M531 621.1C533.9 621.7 542.7 623.9 548.5 625.1C554.3 626.3 563.1 627.6 566 628.1" fill="none" stroke="#000" stroke-width="5" stroke-linecap="round" stroke-linejoin="round" clip-path="url(#wfront)"/>
<path d="M580 630.9C582.8 631.6 591.3 633.7 597 634.9C602.7 636 611.2 637.3 614 637.8" fill="none" stroke="#000" stroke-width="5" stroke-linecap="round" stroke-linejoin="round" clip-path="url(#wfront)"/>
<path d="M626 640.2C632.2 641.5 650.7 645.6 663 648.1C675.3 650.6 693.8 653.9 700 655.1" fill="none" stroke="#000" stroke-width="5" stroke-linecap="round" stroke-linejoin="round" clip-path="url(#wfront)"/>
<path d="M712 657.5C714.8 658.1 723 660.2 728.5 661.3C734 662.4 742.2 663.7 745 664.1" fill="none" stroke="#000" stroke-width="4.6" stroke-linecap="round" stroke-linejoin="round" clip-path="url(#wfront)"/>
<path d="M527 628.3C532.2 629.4 548 633 558.5 635.1C569 637.2 584.8 640 590 641" fill="none" stroke="#000" stroke-width="5.3" stroke-linecap="round" stroke-linejoin="round" clip-path="url(#wfront)"/>
<path d="M604 643.8C608.7 644.8 622.7 648.1 632 649.9C641.3 651.8 655.3 654.2 660 655.1" fill="none" stroke="#000" stroke-width="5.3" stroke-linecap="round" stroke-linejoin="round" clip-path="url(#wfront)"/>
<path d="M672 657.5C678.2 658.8 696.7 663 709 665.5C721.3 668 739.8 671.3 746 672.4" fill="none" stroke="#000" stroke-width="5" stroke-linecap="round" stroke-linejoin="round" clip-path="url(#wfront)"/>
<path d="M530 636.9C532.5 637.5 540 639.4 545 640.4C550 641.4 557.5 642.5 560 642.9" fill="none" stroke="#000" stroke-width="6" stroke-linecap="round" stroke-linejoin="round" clip-path="url(#wfront)"/>
<path d="M574 645.8C579.5 647 596 650.7 607 652.9C618 655.2 634.5 658.1 640 659.1" fill="none" stroke="#000" stroke-width="5.3" stroke-linecap="round" stroke-linejoin="round" clip-path="url(#wfront)"/>
<path d="M652 661.5C657.3 662.7 673.3 666.3 684 668.5C694.7 670.7 710.7 673.5 716 674.5" fill="none" stroke="#000" stroke-width="5.3" stroke-linecap="round" stroke-linejoin="round" clip-path="url(#wfront)"/>
<path d="M726 676.5C727.7 676.9 732.7 678.3 736 679C739.3 679.7 744.3 680.3 746 680.5" fill="none" stroke="#000" stroke-width="4.8" stroke-linecap="round" stroke-linejoin="round" clip-path="url(#wfront)"/>
<path d="M527 644.3C532.9 645.6 550.7 649.6 562.5 652C574.3 654.4 592.1 657.5 598 658.7" fill="none" stroke="#000" stroke-width="5.3" stroke-linecap="round" stroke-linejoin="round" clip-path="url(#wfront)"/>
<path d="M612 661.5C618.5 662.9 638 667.3 651 669.9C664 672.5 683.5 676.1 690 677.3" fill="none" stroke="#000" stroke-width="5.3" stroke-linecap="round" stroke-linejoin="round" clip-path="url(#wfront)"/>
<path d="M702 679.7C705.8 680.6 717 683.3 724.5 684.8C732 686.3 743.2 688.2 747 688.8" fill="none" stroke="#000" stroke-width="5" stroke-linecap="round" stroke-linejoin="round" clip-path="url(#wfront)"/>
<path d="M530 652.9C534.2 653.8 546.7 656.8 555 658.5C563.3 660.2 575.8 662.3 580 663" fill="none" stroke="#000" stroke-width="4.8" stroke-linecap="round" stroke-linejoin="round" clip-path="url(#wfront)"/>
<path d="M600 667.1C606.3 668.5 625.3 672.7 638 675.3C650.7 677.9 669.7 681.3 676 682.5" fill="none" stroke="#000" stroke-width="5" stroke-linecap="round" stroke-linejoin="round" clip-path="url(#wfront)"/>
<path d="M690 685.4C694.8 686.4 709.3 689.8 719 691.8C728.7 693.7 743.2 696.2 748 697.1" fill="none" stroke="#000" stroke-width="5" stroke-linecap="round" stroke-linejoin="round" clip-path="url(#wfront)"/>
<polygon points="170,407.5 848,544 846,550.5 360,452.5 232,431 176,421 166,417" fill="#000"/>
<polygon points="190,416 200,424.5 240,434.5 262,439.5 280,444.5 300,448 321,453 352,458 370,457 371,451" fill="#000"/>
<path d="M283 441.5 L296 443.5 M309 447 L322 450" stroke="#fff" stroke-width="1.4" stroke-linecap="round" fill="none"/>
<path d="M172 410 L76 513" fill="none" stroke="#000" stroke-width="6.5" stroke-linecap="round" stroke-linejoin="round"/>
<path d="M79.3 514 L79.8 578" fill="none" stroke="#000" stroke-width="9" stroke-linecap="round" stroke-linejoin="round"/>
<path d="M76 513 L750 648" fill="none" stroke="#000" stroke-width="6" stroke-linecap="round" stroke-linejoin="round"/>
<polygon points="77,573 81,571 210,597 610,678.4 672.8,690.8 731,704.6 750,708.5 755,721 731,715.5 672.8,703.9 610,691.5 210,609 77,581.5" fill="#000"/>
<polygon points="846,547 850,606 756,719 749,652 750,648" fill="#000" stroke="#000" stroke-width="5" stroke-linejoin="round"/>
<!-- zinc plate -->
<polygon points="334,510 346,497 518,535 524,541 527,1177 512,1196 339,1157" fill="#fff"/>
<polygon points="505.5,538 516,534.5 523.5,540 528,1175 513,1196 509.5,1190" fill="#000"/>
<polygon points="332.6,515 332.1,640 335,880 336.6,1154 345,1156 343.7,880 342.2,640 340.2,560 340.2,515" fill="#000"/>
<path d="M336.4 516 L336.4 512 Q336.6 501.8 348 501.3" fill="none" stroke="#000" stroke-width="7.7" stroke-linecap="round" stroke-linejoin="round"/>
<polygon points="340,503 347,497.3 518.5,535.4 523,541 506,549.8 344,509.5" fill="#000"/>
<path d="M356 505.6 L500 540.2" stroke="#fff" stroke-width="1" stroke-dasharray="10 22 14 40 18 30" fill="none"/>
<path d="M340.5 1155.5 L511 1193.5" fill="none" stroke="#000" stroke-width="7" stroke-linecap="round" stroke-linejoin="round"/>
<ellipse cx="393.7" cy="657.5" rx="5.1" ry="5.7" fill="#000" transform="rotate(20 393.7 657.5)"/>
<ellipse cx="367" cy="668.5" rx="5.1" ry="5.8" fill="#000" transform="rotate(11 367 668.5)"/>
<ellipse cx="458.1" cy="664.7" rx="5.3" ry="5" fill="#000" transform="rotate(-1 458.1 664.7)"/>
<ellipse cx="406.8" cy="680.2" rx="5.2" ry="5.2" fill="#000" transform="rotate(-27 406.8 680.2)"/>
<ellipse cx="486.3" cy="681.3" rx="5.3" ry="5.1" fill="#000" transform="rotate(0 486.3 681.3)"/>
<ellipse cx="377.1" cy="707" rx="5.3" ry="5.4" fill="#000" transform="rotate(-24 377.1 707)"/>
<ellipse cx="423.1" cy="711.3" rx="5" ry="5" fill="#000" transform="rotate(-17 423.1 711.3)"/>
<ellipse cx="456.3" cy="718" rx="4.9" ry="5.2" fill="#000" transform="rotate(25 456.3 718)"/>
<ellipse cx="479.9" cy="721.5" rx="5.2" ry="5.2" fill="#000" transform="rotate(21 479.9 721.5)"/>
<ellipse cx="384.4" cy="735.2" rx="4.6" ry="5.6" fill="#000" transform="rotate(-2 384.4 735.2)"/>
<ellipse cx="410.6" cy="743.3" rx="4.6" ry="5" fill="#000" transform="rotate(25 410.6 743.3)"/>
<ellipse cx="422.9" cy="768.7" rx="4.5" ry="5.8" fill="#000" transform="rotate(-20 422.9 768.7)"/>
<ellipse cx="448.5" cy="767.2" rx="5.3" ry="5.3" fill="#000" transform="rotate(-18 448.5 767.2)"/>
<ellipse cx="471.2" cy="775.4" rx="5" ry="5.7" fill="#000" transform="rotate(-17 471.2 775.4)"/>
<ellipse cx="373.4" cy="784.1" rx="4.7" ry="6" fill="#000" transform="rotate(-18 373.4 784.1)"/>
<ellipse cx="418.8" cy="808.3" rx="5.4" ry="5.9" fill="#000" transform="rotate(-11 418.8 808.3)"/>
<ellipse cx="463" cy="843.2" rx="4.5" ry="5.4" fill="#000" transform="rotate(29 463 843.2)"/>
<ellipse cx="366.4" cy="851.9" rx="4.6" ry="5.1" fill="#000" transform="rotate(-11 366.4 851.9)"/>
<ellipse cx="416.4" cy="855.4" rx="5.2" ry="5.6" fill="#000" transform="rotate(8 416.4 855.4)"/>
<ellipse cx="395.2" cy="897.1" rx="5.1" ry="5.3" fill="#000" transform="rotate(-11 395.2 897.1)"/>
<ellipse cx="442.6" cy="898.2" rx="4.8" ry="5.3" fill="#000" transform="rotate(14 442.6 898.2)"/>
<ellipse cx="488.4" cy="891" rx="4.8" ry="5.5" fill="#000" transform="rotate(15 488.4 891)"/>
<ellipse cx="371.9" cy="934.9" rx="4.7" ry="5.3" fill="#000" transform="rotate(30 371.9 934.9)"/>
<ellipse cx="427.2" cy="937.5" rx="4.5" ry="5.7" fill="#000" transform="rotate(24 427.2 937.5)"/>
<ellipse cx="477.6" cy="942.8" rx="4.9" ry="5.5" fill="#000" transform="rotate(-4 477.6 942.8)"/>
<ellipse cx="407.1" cy="956.4" rx="4.8" ry="5.6" fill="#000" transform="rotate(-30 407.1 956.4)"/>
<ellipse cx="452.3" cy="963.7" rx="4.9" ry="5.7" fill="#000" transform="rotate(9 452.3 963.7)"/>
<ellipse cx="431" cy="977" rx="5.4" ry="5.2" fill="#000" transform="rotate(18 431 977)"/>
<ellipse cx="385" cy="983.3" rx="4.7" ry="5.8" fill="#000" transform="rotate(-1 385 983.3)"/>
<ellipse cx="354.1" cy="995.6" rx="4.8" ry="5.4" fill="#000" transform="rotate(3 354.1 995.6)"/>
<ellipse cx="445" cy="1006.6" rx="4.7" ry="5.5" fill="#000" transform="rotate(7 445 1006.6)"/>
<ellipse cx="380.6" cy="1024.7" rx="5.2" ry="5.8" fill="#000" transform="rotate(25 380.6 1024.7)"/>
<ellipse cx="415.6" cy="1034.3" rx="4.8" ry="5.4" fill="#000" transform="rotate(-25 415.6 1034.3)"/>
<ellipse cx="490.7" cy="1030.5" rx="4.7" ry="5.5" fill="#000" transform="rotate(-7 490.7 1030.5)"/>
<ellipse cx="375.7" cy="1059.6" rx="5.3" ry="5.3" fill="#000" transform="rotate(29 375.7 1059.6)"/>
<ellipse cx="410" cy="1073" rx="5.1" ry="5.1" fill="#000" transform="rotate(13 410 1073)"/>
<ellipse cx="455.7" cy="1072.1" rx="4.8" ry="5.2" fill="#000" transform="rotate(-25 455.7 1072.1)"/>
<ellipse cx="376.3" cy="1098.3" rx="5.1" ry="5.7" fill="#000" transform="rotate(-11 376.3 1098.3)"/>
<ellipse cx="462.2" cy="1107.9" rx="5.4" ry="5.2" fill="#000" transform="rotate(-27 462.2 1107.9)"/>
<ellipse cx="494.2" cy="1120.2" rx="4.6" ry="5.6" fill="#000" transform="rotate(29 494.2 1120.2)"/>
<ellipse cx="358.2" cy="1126.6" rx="4.9" ry="5.2" fill="#000" transform="rotate(8 358.2 1126.6)"/>
<ellipse cx="376.6" cy="1131.2" rx="4.8" ry="5.3" fill="#000" transform="rotate(11 376.6 1131.2)"/>
<ellipse cx="419.4" cy="1124.5" rx="4.9" ry="5.1" fill="#000" transform="rotate(28 419.4 1124.5)"/>
<ellipse cx="441.2" cy="1143.5" rx="5.1" ry="5.8" fill="#000" transform="rotate(-9 441.2 1143.5)"/>
<ellipse cx="410" cy="1151.3" rx="5.3" ry="5.1" fill="#000" transform="rotate(16 410 1151.3)"/>
<ellipse cx="474.1" cy="1156.6" rx="5" ry="5.1" fill="#000" transform="rotate(27 474.1 1156.6)"/>
<ellipse cx="359.6" cy="565.5" rx="5.2" ry="5.1" fill="#000" transform="rotate(-3 359.6 565.5)"/>
<ellipse cx="457.2" cy="563.7" rx="4.8" ry="5.1" fill="#000" transform="rotate(-4 457.2 563.7)"/>
<ellipse cx="362.4" cy="611.2" rx="4.8" ry="5.5" fill="#000" transform="rotate(9 362.4 611.2)"/>
<ellipse cx="493.4" cy="603" rx="5.3" ry="6" fill="#000" transform="rotate(-1 493.4 603)"/>
<ellipse cx="414" cy="748.5" rx="5.4" ry="5.7" fill="#000" transform="rotate(-10 414 748.5)"/>
<circle cx="472.1" cy="547.7" r="2.2" fill="#000"/>
<circle cx="494.4" cy="561.6" r="2.2" fill="#000"/>
<circle cx="459.5" cy="731.7" r="2.2" fill="#000"/>
<circle cx="448" cy="876" r="2.2" fill="#000"/>
<circle cx="482" cy="765.8" r="2.2" fill="#000"/>
<!-- ring and left wire -->
<ellipse cx="421" cy="613.7" rx="35" ry="37" fill="#000"/>
<ellipse cx="416.8" cy="615.2" rx="23.6" ry="25.4" fill="#fff"/>
<ellipse cx="415.4" cy="615.4" rx="17.6" ry="20.7" fill="#000"/>
<ellipse cx="414.7" cy="615" rx="9.8" ry="15.2" fill="#fff"/>
<path d="M406 606.5 C412 604 419.5 605 420.5 609.5 C421 613.5 418 615.5 414 615" fill="none" stroke="#000" stroke-width="7.2" stroke-linecap="round" stroke-linejoin="round"/>
<path d="M447 596 C449 610 448 625 443 637" fill="none" stroke="#fff" stroke-width="1.2"/>
<path d="M450.5 66C449.8 68.3 447.3 75.3 446 80C444.7 84.7 443.9 88.5 442.7 94C441.4 99.5 439.4 106.5 438.5 113C437.6 119.5 437.2 126.8 437.1 133C437 139.2 437.5 144.8 438 150C438.5 155.2 438.6 156.7 440.2 164C441.8 171.3 445.5 183.8 447.9 194C450.2 204.2 453 214.7 454.3 225C455.6 235.3 456.4 246.8 455.8 256C455.2 265.2 452.8 273.2 450.5 280C448.2 286.8 445.9 291 442.3 296.5C438.7 302 433.8 307.5 429.1 313C424.4 318.5 418.9 324 414.2 329.5C409.5 335 404.9 340.5 401 346C397.1 351.5 393.7 357 391.1 362.5C388.5 368 386.9 373.5 385.4 379C383.9 384.5 382.9 390 382.1 395.5C381.3 401 380.8 406.5 380.4 412C380 417.5 379.8 423 379.6 428.5C379.4 434 379.3 439.5 379.3 445C379.3 450.5 379.4 455.6 379.6 461.4C379.8 467.2 379.9 472.6 380.3 480C380.7 487.4 381.2 498.1 381.9 505.7C382.6 513.3 383 518.2 384.5 525.6C386 533 388.8 542.6 390.9 550C393 557.4 395.4 564.8 397.3 569.9C399.2 575 401.6 578.7 402.5 580.5" fill="none" stroke="#000" stroke-width="18.3" stroke-linecap="round" stroke-linejoin="round"/>
<path d="M450.5 66C449.8 68.3 447.3 75.3 446 80C444.7 84.7 443.9 88.5 442.7 94C441.4 99.5 439.4 106.5 438.5 113C437.6 119.5 437.2 126.8 437.1 133C437 139.2 437.5 144.8 438 150C438.5 155.2 438.6 156.7 440.2 164C441.8 171.3 445.5 183.8 447.9 194C450.2 204.2 453 214.7 454.3 225C455.6 235.3 456.4 246.8 455.8 256C455.2 265.2 452.8 273.2 450.5 280C448.2 286.8 445.9 291 442.3 296.5C438.7 302 433.8 307.5 429.1 313C424.4 318.5 418.9 324 414.2 329.5C409.5 335 404.9 340.5 401 346C397.1 351.5 393.7 357 391.1 362.5C388.5 368 386.9 373.5 385.4 379C383.9 384.5 382.9 390 382.1 395.5C381.3 401 380.8 406.5 380.4 412C380 417.5 379.8 423 379.6 428.5C379.4 434 379.4 442.2 379.3 445" fill="none" stroke="#000" stroke-width="19" stroke-linecap="round" stroke-linejoin="round"/>
<path d="M450.5 66C449.8 68.3 447.3 75.3 446 80C444.7 84.7 443.9 88.5 442.7 94C441.4 99.5 439.4 106.5 438.5 113C437.6 119.5 437.2 126.8 437.1 133C437 139.2 437.5 144.8 438 150C438.5 155.2 438.6 156.7 440.2 164C441.8 171.3 445.5 183.8 447.9 194C450.2 204.2 453 214.7 454.3 225C455.6 235.3 456.4 246.8 455.8 256C455.2 265.2 452.8 273.2 450.5 280C448.2 286.8 445.9 291 442.3 296.5C438.7 302 433.8 307.5 429.1 313C424.4 318.5 418.9 324 414.2 329.5C409.5 335 404.9 340.5 401 346C397.1 351.5 393.7 357 391.1 362.5C388.5 368 386.9 373.5 385.4 379C383.9 384.5 382.9 390 382.1 395.5C381.3 401 380.7 409.2 380.4 412" fill="none" stroke="#000" stroke-width="19.7" stroke-linecap="round" stroke-linejoin="round"/>
<path d="M450.5 66C449.8 68.3 447.3 75.3 446 80C444.7 84.7 443.9 88.5 442.7 94C441.4 99.5 439.4 106.5 438.5 113C437.6 119.5 437.2 126.8 437.1 133C437 139.2 437.5 144.8 438 150C438.5 155.2 438.6 156.7 440.2 164C441.8 171.3 445.5 183.8 447.9 194C450.2 204.2 453 214.7 454.3 225C455.6 235.3 456.4 246.8 455.8 256C455.2 265.2 452.8 273.2 450.5 280C448.2 286.8 445.9 291 442.3 296.5C438.7 302 433.8 307.5 429.1 313C424.4 318.5 418.9 324 414.2 329.5C409.5 335 404.9 340.5 401 346C397.1 351.5 393.7 357 391.1 362.5C388.5 368 386.3 376.2 385.4 379" fill="none" stroke="#000" stroke-width="20.4" stroke-linecap="round" stroke-linejoin="round"/>
<ellipse cx="449.8" cy="71.5" rx="12.8" ry="16.2" transform="rotate(17 449.8 71.5)" fill="#000"/>
<path d="M443 170C443.5 172 445.5 180 446 182" fill="none" stroke="#fff" stroke-width="1.3" stroke-linecap="round"/>
<path d="M455 224C455.3 227.5 457 237.7 457 245C457 252.3 456.7 260.5 455 268C453.3 275.5 450.8 283.3 447 290C443.2 296.7 434.5 305 432 308" fill="none" stroke="#fff" stroke-width="1.3" stroke-linecap="round" stroke-dasharray="14 6"/>
<path d="M666.5 159 Q684 151.5 700.5 149" fill="none" stroke="#000" stroke-width="7.6" stroke-linecap="round" stroke-linejoin="round"/>
<path d="M722.7 140.8 L725.9 161.7 L738 146.8 L742.7 161.7 L753.8 140.3" fill="none" stroke="#000" stroke-width="8.7" stroke-linecap="round" stroke-linejoin="round"/>
<path d="M775.6 143 L768.8 160.2" fill="none" stroke="#000" stroke-width="8.7" stroke-linecap="round" stroke-linejoin="round"/>
<path d="M799.8 141.2 L790.5 160.7 M799.8 141.2 C810.5 138.8 816 141.6 813.2 146.7 C810.5 150.5 804.9 150.9 798.4 150.5 M805.3 150.9 L806.7 161.2" fill="none" stroke="#000" stroke-width="8.2" stroke-linecap="round" stroke-linejoin="round"/>
<path d="M853.6 139.3 L838.3 141.2 L830.4 160.7 L849.9 158.8 M834.6 150.9 L845.7 150" fill="none" stroke="#000" stroke-width="8.4" stroke-linecap="round" stroke-linejoin="round"/>
<path d="M725 511.5 Q744 499.5 763 494.8" fill="none" stroke="#000" stroke-width="7.6" stroke-linecap="round" stroke-linejoin="round"/>
<path d="M783.2 481.9 L784.1 507.5 L801 484.2 L803.8 506.6 L819.6 480.5" fill="none" stroke="#000" stroke-width="9.2" stroke-linecap="round" stroke-linejoin="round"/>
<ellipse cx="838.7" cy="497" rx="8.8" ry="10.6" transform="rotate(22 838.7 497)" fill="none" stroke="#000" stroke-width="10.2"/>
<ellipse cx="868.5" cy="496.1" rx="8.3" ry="10.2" transform="rotate(22 868.5 496.1)" fill="none" stroke="#000" stroke-width="10.2"/>
<path d="M895.7 484.9 L889.6 508.7 C899.9 511 906.9 504 906.9 495.6 C906.9 487.7 902.7 484 895.7 484.9 Z" fill="none" stroke="#000" stroke-width="9.2" stroke-linecap="round" stroke-linejoin="round"/>
<path d="M941.7 480.9 L927.3 482.7 L919.8 503.6 L936.6 502.2 M924 493.2 L933.8 492.9" fill="none" stroke="#000" stroke-width="7.1" stroke-linecap="round" stroke-linejoin="round"/>
<path d="M952.5 503.6 L960.9 481.3 L970.2 503.6 L979.5 479.1" fill="none" stroke="#000" stroke-width="8.7" stroke-linecap="round" stroke-linejoin="round"/>
<path d="M984 518.2 C979.7 515.1 971.3 516 970.3 522.4 C969.4 527.7 978.3 530.9 979.5 537.6 C979.8 542.5 972.7 544.4 966.3 535.8" fill="none" stroke="#000" stroke-width="8.2" stroke-linecap="round" stroke-linejoin="round"/>
<path d="M998.3 518.1 L1018.2 516.1 M1007.4 518.3 L1000.1 540.4" fill="none" stroke="#000" stroke-width="8.2" stroke-linecap="round" stroke-linejoin="round"/>
<path d="M1034.2 515.8 L1024.4 538.2 M1034.2 515.8 C1044.4 513.4 1049.6 517.2 1047.2 520.7 C1044.9 524.9 1039.8 525.5 1032.2 525.4 M1037.5 526.9 L1040.3 538.2" fill="none" stroke="#000" stroke-width="8.2" stroke-linecap="round" stroke-linejoin="round"/>
<path d="M1067 515 L1058.6 536.1" fill="none" stroke="#000" stroke-width="8.2" stroke-linecap="round" stroke-linejoin="round"/>
<path d="M1086.4 512.2 L1077.6 533.9 M1086.4 512.2 C1098.4 508.9 1104.5 512.7 1102.3 517.6 C1100.3 523.4 1093.8 525.7 1083.9 525.7" fill="none" stroke="#000" stroke-width="8.7" stroke-linecap="round" stroke-linejoin="round"/>
<path d="M186.2 918.5 L204.1 917.8 L180.9 936.9 L202.1 937.7" fill="none" stroke="#000" stroke-width="8.2" stroke-linecap="round" stroke-linejoin="round"/>
<path d="M226.4 918.3 L219.9 937.2" fill="none" stroke="#000" stroke-width="8.2" stroke-linecap="round" stroke-linejoin="round"/>
<path d="M242.1 937.2 L251.1 919 L260.8 937.2 L272.1 917.5" fill="none" stroke="#000" stroke-width="8.2" stroke-linecap="round" stroke-linejoin="round"/>
<path d="M296.8 920.5 C291 915.9 283.2 920.7 282.9 928 C282.2 936.7 289 939.6 297.5 934.5" fill="none" stroke="#000" stroke-width="8.2" stroke-linecap="round" stroke-linejoin="round"/>
<path d="M307.5 942 Q317 947.3 328.5 949" fill="none" stroke="#000" stroke-width="7.2" stroke-linecap="round" stroke-linejoin="round"/>
<path d="M616.8 949.2 Q630 941.3 642.8 938.2" fill="none" stroke="#000" stroke-width="7.6" stroke-linecap="round" stroke-linejoin="round"/>
<path d="M676.7 926.6 C669.7 921.5 660.4 926.2 658.1 934.1 C655.8 944.3 666 949 674.9 942.6" fill="none" stroke="#000" stroke-width="8.2" stroke-linecap="round" stroke-linejoin="round"/>
<ellipse cx="697.8" cy="933.5" rx="8.3" ry="9.8" transform="rotate(25 697.8 933.5)" fill="none" stroke="#000" stroke-width="9.6"/>
<path d="M727 924.4 L720.7 943.5 M727 924.4 C738.6 921.3 745.6 924.1 744.1 927.7 C742.3 931.6 735.8 933.9 726 933.9" fill="none" stroke="#000" stroke-width="8.2" stroke-linecap="round" stroke-linejoin="round"/>
<path d="M760 923.3 L753.9 941.4 M760 923.3 C772.6 919.3 779.5 922.1 778.3 925.6 C776.7 929.6 769.8 931.9 759.3 932.6" fill="none" stroke="#000" stroke-width="8.2" stroke-linecap="round" stroke-linejoin="round"/>
<path d="M807.2 919.2 L792.6 921.2 L786.2 938.2 L804.2 935.7 M790.2 929.4 L801.3 928.4" fill="none" stroke="#000" stroke-width="7.1" stroke-linecap="round" stroke-linejoin="round"/>
<path d="M821 918 L815 937 M821 918 C832.6 914.4 839.6 917.1 838.3 921.2 C836.8 924.9 829.8 927.2 820.3 927.5 M830.3 927.8 L840.2 937" fill="none" stroke="#000" stroke-width="8.2" stroke-linecap="round" stroke-linejoin="round"/>
<circle cx="751" cy="396.7" r="2" fill="#000"/>
<path d="M866 311 L899 289" stroke="#000" stroke-width="1.3" stroke-dasharray="3 4 6 3 2 5" fill="none"/>
<circle cx="81" cy="320" r="1" fill="#000"/>
<circle cx="111" cy="363" r="1" fill="#000"/>
<circle cx="96" cy="1090" r="1.3" fill="#000"/>
<circle cx="932" cy="1152" r="1.1" fill="#000"/>
<circle cx="625" cy="965" r="1.4" fill="#000"/>
<circle cx="1120" cy="1207" r="1" fill="#000"/>
</svg>
</body></html>
